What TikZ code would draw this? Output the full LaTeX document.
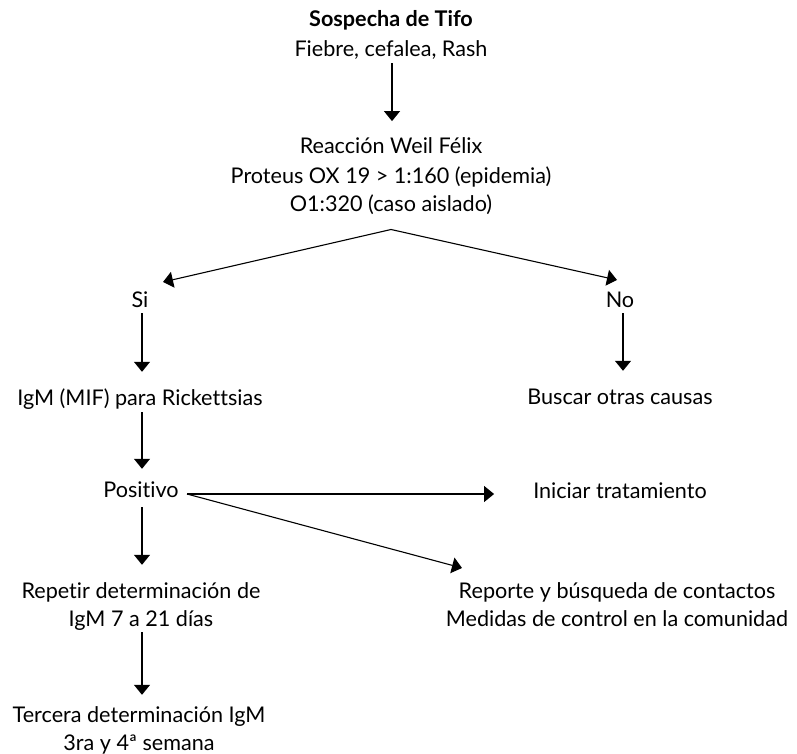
\documentclass[tikz,border=0pt]{standalone}
\usepackage{fontspec}
\setmainfont{Lato}[Ligatures=NoCommon]
\usetikzlibrary{arrows.meta,calc}

% centred block of lines, baseline on the first line
\newcommand\txtlines[1]{\begin{tabular}[t]{@{}c@{}}#1\end{tabular}}

\begin{document}
\begin{tikzpicture}[x=1pt,y=-1pt,
  lbl/.style={inner sep=0pt,anchor=base,
    font=\fontsize{21.6}{28}\selectfont},
  arr/.style={draw=black,line width=1.1pt,
    -{Triangle[width=16pt,length=10pt]}},
  plain/.style={draw=black,line width=1.1pt}]
\useasboundingbox (0,0) rectangle (797,754);

% text blocks
\node[lbl] (top) at (391,27) {\txtlines{\textbf{Sospecha de Tifo}\\[2pt] Fiebre, cefalea, Rash}};
\node[lbl,font=\fontsize{21.6}{29}\selectfont] (weil) at (391,154)
  {\txtlines{Reacción Weil Félix\\ Proteus OX 19 > 1:160 (epidemia)\\ O1:320 (caso aislado)}};
\node[lbl] (si) at (140,307) {\txtlines{Si}};
\node[lbl] (no) at (620,307) {\txtlines{No}};
\node[lbl] (igm) at (140,405) {\txtlines{IgM (MIF) para Rickettsias}};
\node[lbl] (buscar) at (620,404) {\txtlines{Buscar otras causas}};
\node[lbl] (positivo) at (141,497) {\txtlines{Positivo}};
\node[lbl] (iniciar) at (620,498) {\txtlines{Iniciar tratamiento}};
\node[lbl] (repetir) at (141,598) {\txtlines{Repetir determinación de\\ IgM 7 a 21 días}};
\node[lbl] (reporte) at (617,598) {\txtlines{Reporte y búsqueda de contactos\\ Medidas de control en la comunidad}};
\node[lbl] (tercera) at (139,722) {\txtlines{Tercera determinación IgM\\ 3ra y 4ª semana}};

% branching points and the common vertical line of the left column
\coordinate (apex) at ($(weil.south)+(0,8.6)$);
\coordinate (siTip) at (163,282);
\coordinate (noTip) at (617,280);
\coordinate (pstart) at (187,494);
\coordinate (repTip) at (462,568);
\coordinate (leftcol) at (142,0);
\coordinate (rightcol) at (623,0);
\coordinate (midcol) at (392,0);

% connectors
\draw[arr,shorten <=-2.4pt,shorten >=12.4pt] (top.south -| midcol) -- (weil.north -| midcol);
\draw[arr] (apex) -- (siTip);
\draw[arr] (apex) -- (noTip);
\draw[arr,shorten <=-2.4pt,shorten >=13.4pt] (si.south -| leftcol) -- (igm.north -| leftcol);
\draw[arr,shorten <=-2.4pt,shorten >=13.4pt] (no.south -| rightcol) -- (buscar.north -| rightcol);
\draw[arr,shorten <=-1.4pt,shorten >=8.4pt] (igm.south -| leftcol) -- (positivo.north -| leftcol);
\draw[arr,shorten <=1.6pt,shorten >=13.4pt] (positivo.south -| leftcol) -- (repetir.north -| leftcol);
\draw[arr,shorten <=-2.4pt,shorten >=7.4pt] (repetir.south -| leftcol) -- (tercera.north -| leftcol);
\draw[arr,shorten >=39pt] (pstart) -- (pstart -| iniciar.west);
\draw[arr] (pstart) -- (repTip);
\end{tikzpicture}
\end{document}
